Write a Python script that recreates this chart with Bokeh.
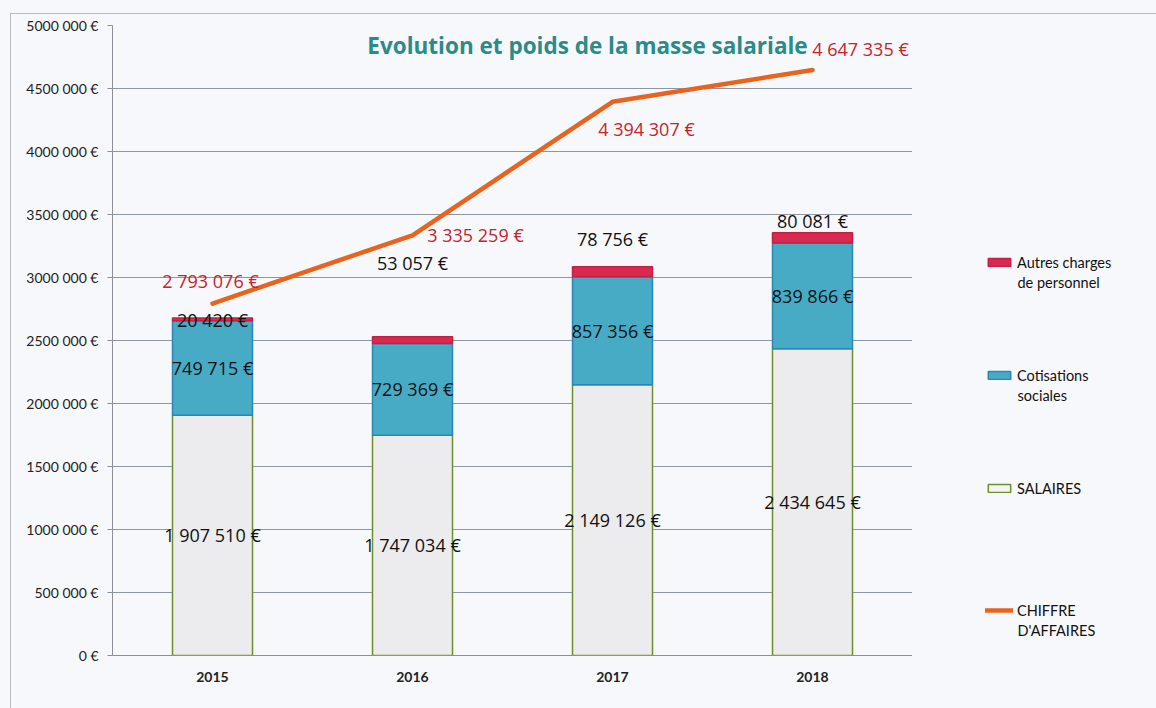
from bokeh.plotting import figure
from bokeh.layouts import row
from bokeh.models import (ColumnDataSource, LabelSet, Legend, LegendItem, Label,
                          FixedTicker, Range1d, FactorRange, GlobalInlineStyleSheet)
from bokeh.core.properties import value
from bokeh.embed import file_html
from bokeh.resources import INLINE

# ---------------- data ----------------
years = ["2015", "2016", "2017", "2018"]
salaires = [1907510, 1747034, 2149126, 2434645]
cotisations = [749715, 729369, 857356, 839866]
autres = [20420, 53057, 78756, 80081]
chiffre = [2793076, 3335259, 4394307, 4647335]
y_ticks = [0, 500000, 1000000, 1500000, 2000000, 2500000, 3000000, 3500000,
           4000000, 4500000, 5000000]
y_tick_labels = ["0 €", "500 000 €", "1000 000 €", "1500 000 €", "2000 000 €",
                 "2500 000 €", "3000 000 €", "3500 000 €", "4000 000 €",
                 "4500 000 €", "5000 000 €"]
title_text = "Evolution et poids de la masse salariale"
legend_first = ["Autres charges", "Cotisations", "SALAIRES", "CHIFFRE"]
legend_second = ["de personnel", "sociales", None, "D'AFFAIRES"]

# ---------------- styles (label offsets in px) ----------------
autres_dy = [-2, 74, 28, 12]
chiffre_dx = [-2, 63, 34, 48]
chiffre_dy = [23, 0, -27, 21]

FONT = "Lato"
DFONT = "Open Sans"
BG = "#f7f8fb"
C_AUTRES = "#d82a50"
C_COTIS = "#48abc6"
C_SAL = "#ececef"
C_LINE = "#e8641e"
C_RED = "#c4242b"
L_SAL = "#6f8f2e"
L_COT = "#2a86b3"
L_AUT = "#c51f43"


def fmt(v):
    return f"{v:,}".replace(",", " ") + " €"


src = ColumnDataSource(dict(
    year=years,
    salaires=salaires,
    cotisations=cotisations,
    autres=autres,
    chiffre=chiffre,
    sal_mid=[s / 2 for s in salaires],
    cot_mid=[s + c / 2 for s, c in zip(salaires, cotisations)],
    top=[s + c + a for s, c, a in zip(salaires, cotisations, autres)],
    sal_txt=[fmt(v) for v in salaires],
    cot_txt=[fmt(v) for v in cotisations],
    aut_txt=[fmt(v) for v in autres],
    chi_txt=[fmt(v) for v in chiffre],
    aut_dy=autres_dy,
    chi_dx=chiffre_dx,
    chi_dy=chiffre_dy,
))

p = figure(width=901, height=694, x_range=FactorRange(*years),
           y_range=Range1d(0, 5000000), output_backend="svg",
           toolbar_location=None, min_border_left=101, min_border_right=0,
           min_border_top=11, min_border_bottom=53)
p.background_fill_color = BG
p.border_fill_color = BG
p.outline_line_color = None

p.vbar_stack(["salaires", "cotisations", "autres"], x="year", width=0.4,
             source=src,
             fill_color=[C_SAL, C_COTIS, C_AUTRES],
             line_color=[L_SAL, L_COT, L_AUT],
             line_width=1.5)

p.line(x="year", y="chiffre", source=src, line_color=C_LINE,
       line_width=4.5, line_cap="round", line_join="round")

# axes
p.yaxis.ticker = FixedTicker(ticks=y_ticks)
p.yaxis.major_label_overrides = dict(zip(y_ticks, y_tick_labels))
p.yaxis.minor_tick_line_color = None
p.yaxis.major_tick_in = 0
p.yaxis.major_tick_out = 5
p.yaxis.major_tick_line_color = "#8a8f99"
p.yaxis.axis_line_color = "#8a8f99"
p.yaxis.major_label_text_font = FONT
p.yaxis.major_label_text_font_size = "14px"
p.yaxis.major_label_text_color = "#222222"
p.yaxis.major_label_standoff = 9

p.xaxis.axis_line_color = "#8a8f99"
p.xaxis.major_tick_line_color = None
p.xaxis.major_label_text_font = FONT
p.xaxis.major_label_text_font_style = "bold"
p.xaxis.major_label_text_font_size = "14px"
p.xaxis.major_label_text_color = "#222222"
p.xaxis.major_label_standoff = 10

p.xgrid.grid_line_color = None
p.ygrid.grid_line_color = "#8f96a3"
p.ygrid.grid_line_width = 1

# data labels
common = dict(source=src, text_align="center", text_baseline="middle",
              text_font=value(DFONT), text_font_size=value("18px"))
p.add_layout(LabelSet(x="year", y="sal_mid", text="sal_txt", text_color="#111111", **common))
p.add_layout(LabelSet(x="year", y="cot_mid", text="cot_txt", text_color="#111111", **common))
p.add_layout(LabelSet(x="year", y="top", text="aut_txt", y_offset="aut_dy",
                      text_color="#111111", **common))
p.add_layout(LabelSet(x="year", y="chiffre", text="chi_txt", x_offset="chi_dx",
                      y_offset="chi_dy", text_color=C_RED, **common))

# title
p.add_layout(Label(x=475, y=610, x_units="screen", y_units="screen", text=title_text,
                   text_align="center", text_baseline="middle", text_font=DFONT,
                   text_font_style="bold", text_font_size="22.5px", text_color="#2a8b89"))

# ---------------- legend panel ----------------
# legend proxies use the same data; they are hidden so only their legend swatches show
q = figure(width=244, height=694, x_range=FactorRange(*years),
           y_range=Range1d(-2e7, -1e7),
           output_backend="svg", toolbar_location=None,
           x_axis_location=None, y_axis_location=None,
           min_border_left=0, min_border_right=0, min_border_top=11, min_border_bottom=53)
q.background_fill_color = BG
q.border_fill_color = BG
q.outline_line_color = None
q.grid.visible = False

g_aut = q.vbar(x="year", top="autres", bottom=0, width=0.4, source=src, visible=False,
               fill_color=C_AUTRES, line_color=L_AUT, line_width=1.5)
g_cot = q.vbar(x="year", top="cotisations", bottom=0, width=0.4, source=src, visible=False,
               fill_color=C_COTIS, line_color=L_COT, line_width=1.5)
g_sal = q.vbar(x="year", top="salaires", bottom=0, width=0.4, source=src, visible=False,
               fill_color="#f4f5f0", line_color=L_SAL, line_width=1.5)
g_lin = q.line(x="year", y="chiffre", source=src, line_color=C_LINE,
               line_width=4.5, line_cap="round")

leg_renderers = [g_aut, g_cot, g_sal, g_lin]
leg_vy = [383, 270, 157, 35]   # frame is aligned with the chart: y from 25 to 655
for first, second, rend, vy in zip(legend_first, legend_second, leg_renderers, leg_vy):
    leg = Legend(items=[LegendItem(label=first, renderers=[rend])],
                 location=(73, vy), padding=0, margin=0, click_policy="none",
                 inactive_fill_alpha=0,
                 border_line_color=None, background_fill_alpha=0,
                 glyph_width=28, glyph_height=10, label_standoff=4,
                 label_text_font=FONT, label_text_font_size="14.5px",
                 label_text_color="#111111", label_height=20)
    q.add_layout(leg)
    if second:
        q.add_layout(Label(x=105, y=vy - 10, x_units="screen", y_units="screen",
                           text=second, text_align="left", text_baseline="middle",
                           text_font=FONT, text_font_size="14.5px",
                           text_color="#111111"))

page_css = GlobalInlineStyleSheet(css=f"body {{ background-color: {BG}; }}")
layout = row(p, q, spacing=0, margin=(13, 0, 0, 10),
             styles={"border-top": "1px solid #b9bcc2", "border-left": "1px solid #b9bcc2"},
             stylesheets=[page_css])
open("out.html", "w").write(file_html(layout, INLINE))
